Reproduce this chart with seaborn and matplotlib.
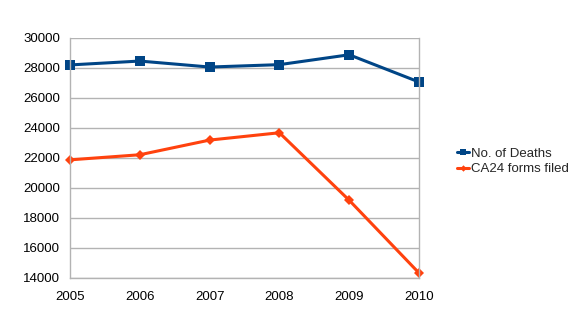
import matplotlib
matplotlib.use("Agg")
import matplotlib.pyplot as plt
import seaborn as sns
import pandas as pd

years = ["2005", "2006", "2007", "2008", "2009", "2010"]
deaths = [28200, 28460, 28060, 28220, 28880, 27060]
ca24 = [21860, 22200, 23180, 23670, 19160, 14300]
series_names = ["No. of Deaths", "CA24 forms filed"]
yticks = list(range(14000, 30001, 2000))

sns.set_style("white")
plt.rcParams["font.family"] = ["Liberation Sans", "DejaVu Sans"]

df = pd.DataFrame({
    "year": years * 2,
    "value": deaths + ca24,
    "series": [series_names[0]] * len(years) + [series_names[1]] * len(years),
})
df["x"] = df["year"].map({y: i for i, y in enumerate(years)})

fig = plt.figure(figsize=(5.77, 3.25), dpi=100)
ax = fig.add_axes([70 / 577, 1 - 277.5 / 325, (419 - 70) / 577, (277.5 - 38) / 325])

palette = {series_names[0]: "#004586", series_names[1]: "#ff420e"}
markers = {series_names[0]: "s", series_names[1]: "D"}
sizes = {series_names[0]: 7, series_names[1]: 5}

for name in series_names:
    sub = df[df["series"] == name]
    sns.lineplot(data=sub, x="x", y="value", ax=ax, color=palette[name],
                 marker=markers[name], markersize=sizes[name], linewidth=2.2,
                 markeredgewidth=0, label=name, legend=False, clip_on=False)

ax.set_xlim(0, len(years) - 1)
ax.set_ylim(14000, 30000)
ax.set_xticks(range(len(years)))
ax.set_xticklabels(years)
ax.set_yticks(yticks)
ax.set_yticklabels([str(t) for t in yticks])
ax.set_xlabel("")
ax.set_ylabel("")
ax.grid(axis="y", color="#b3b3b3", linewidth=1)
ax.set_axisbelow(True)
for s in ax.spines.values():
    s.set_color("#b3b3b3")
    s.set_linewidth(1)
ax.spines["top"].set_visible(False)
ax.tick_params(axis="both", which="both", direction="out", length=4, width=1,
               color="#b3b3b3", labelsize=9.5, labelcolor="black", pad=3)
ax.tick_params(axis="x", pad=6)

handles, labels = ax.get_legend_handles_labels()
fig.legend(handles, labels, loc="center left", bbox_to_anchor=(457 / 577, 1 - 161.5 / 325),
           frameon=False, fontsize=9.5, handlelength=0.9, handletextpad=0.15,
           labelspacing=0.25, borderaxespad=0, borderpad=0, markerscale=0.65)

fig.savefig("out.png", dpi=100)
